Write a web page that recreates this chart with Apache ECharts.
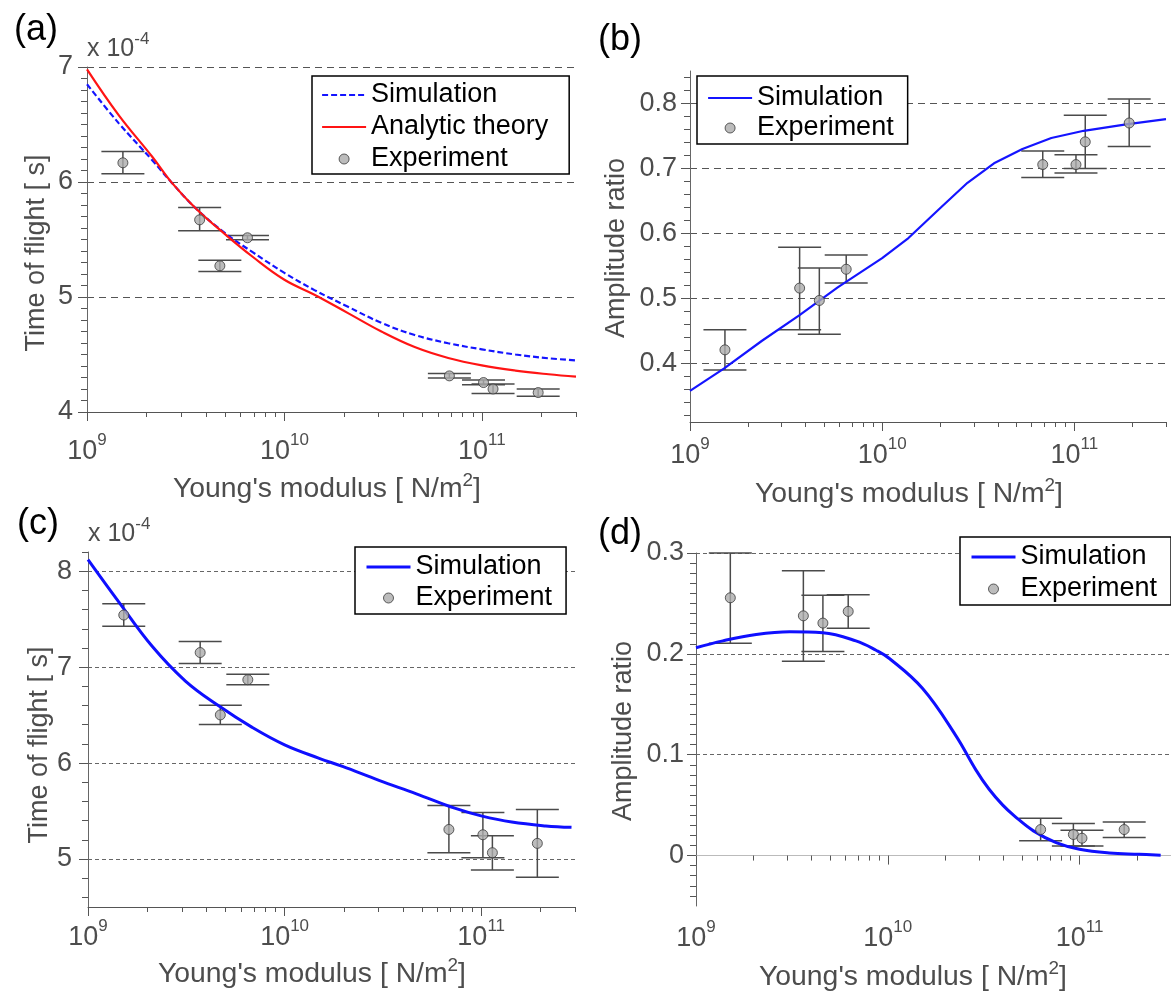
<!DOCTYPE html>
<html><head><meta charset="utf-8">
<script src="https://cdn.jsdelivr.net/npm/echarts@6/dist/echarts.min.js"></script>
<style>html,body{margin:0;padding:0;background:#fff}#c{width:1171px;height:993px}</style>
</head><body><div id="c"></div>
<script>
// ---------------- DATA ----------------
// Experiment x positions (Young's modulus, N/m^2)
const expE   = [1.52e9, 3.72e9, 4.71e9, 6.5e9, 6.85e10, 1.02e11, 1.14e11, 1.93e11];
const expE_d = [1.51e9, 3.63e9, 4.59e9, 6.22e9, 6.27e10, 9.29e10, 1.03e11, 1.71e11];

// (a) time of flight (x 1e-4 s)
const curveE_a   = [1e9, 1.45e9, 2.14e9, 2.7e9, 3.56e9, 5.05e9, 6.9e9, 1e10, 1.42e10, 2.1e10, 3.1e10, 4.57e10, 6.76e10, 1e11, 1.48e11, 2.18e11, 3e11];
const sim_a      = [6.85, 6.51, 6.19, 5.99, 5.77, 5.55, 5.39, 5.21, 5.06, 4.915, 4.775, 4.67, 4.598, 4.545, 4.50, 4.467, 4.449];
const theory_a   = [6.98, 6.58, 6.22, 5.99, 5.77, 5.54, 5.35, 5.15, 5.02, 4.86, 4.70, 4.565, 4.47, 4.405, 4.36, 4.328, 4.307];
const exp_a      = [6.167, 5.671, 5.271, 5.515, 4.314, 4.256, 4.200, 4.169];
const expLo_a    = [6.072, 5.576, 5.222, 5.497, 4.296, 4.238, 4.160, 4.137];
const expHi_a    = [6.266, 5.779, 5.320, 5.535, 4.334, 4.279, 4.244, 4.201];

// (b) amplitude ratio
const curveE_b   = [1e9, 1.5e9, 2.37e9, 3.7e9, 5.87e9, 1e10, 1.37e10, 2.02e10, 2.78e10, 3.82e10, 5.37e10, 7.59e10, 1.12e11, 1.86e11, 3e11];
const sim_b      = [0.358, 0.392, 0.435, 0.474, 0.517, 0.562, 0.593, 0.640, 0.678, 0.708, 0.730, 0.747, 0.758, 0.768, 0.776];
const exp_b      = [0.421, 0.516, 0.497, 0.545, 0.706, 0.706, 0.741, 0.770];
const expLo_b    = [0.390, 0.452, 0.445, 0.524, 0.686, 0.693, 0.700, 0.734];
const expHi_b    = [0.452, 0.579, 0.547, 0.567, 0.727, 0.721, 0.782, 0.807];

// (c) time of flight (x 1e-4 s)
const curveE_c   = [1e9, 1.43e9, 2.12e9, 3.13e9, 4.62e9, 6.84e9, 1e10, 1.5e10, 1.97e10, 3.02e10, 4.68e10, 7.33e10, 1e11, 1.43e11, 2.13e11, 2.88e11];
const sim_c      = [8.121, 7.683, 7.217, 6.855, 6.597, 6.372, 6.19, 6.05, 5.965, 5.82, 5.68, 5.53, 5.45, 5.385, 5.345, 5.33];
const exp_c      = [7.543, 7.152, 6.502, 6.869, 5.308, 5.253, 5.066, 5.163];
const expLo_c    = [7.426, 7.038, 6.401, 6.817, 5.066, 5.014, 4.886, 4.810];
const expHi_c    = [7.661, 7.266, 6.602, 6.927, 5.557, 5.484, 5.242, 5.516];

// (d) amplitude ratio
const curveE_d   = [1e9, 1.38e9, 2.06e9, 3.08e9, 4.58e9, 6.82e9, 8.69e9, 1.02e10, 1.52e10, 2.26e10, 2.88e10, 3.37e10, 3.98e10, 4.57e10, 5.75e10, 7.55e10, 1e11, 1.43e11, 2.05e11, 2.65e11];
const sim_d      = [0.206, 0.2129, 0.2192, 0.2219, 0.2209, 0.2129, 0.2036, 0.1954, 0.1656, 0.1192, 0.085, 0.066, 0.050, 0.0394, 0.0245, 0.0129, 0.0063, 0.0026, 0.0013, 0.0003];
const exp_d      = [0.2556, 0.2377, 0.2305, 0.2421, 0.0258, 0.0209, 0.0172, 0.0258];
const expLo_d    = [0.2106, 0.1927, 0.2023, 0.2255, 0.0146, 0.0096, 0.0096, 0.0179];
const expHi_d    = [0.300, 0.2825, 0.258, 0.2586, 0.0371, 0.0318, 0.0252, 0.0334];

// tick values
const xMajorTicks = [1e9, 1e10, 1e11];
const xMinorTicks = [2e9,3e9,4e9,5e9,6e9,7e9,8e9,9e9,2e10,3e10,4e10,5e10,6e10,7e10,8e10,9e10,2e11,3e11];
const yMajor_a = [4, 5, 6, 7];
const yMinor_a = [4.1,4.2,4.3,4.4,4.5,4.6,4.7,4.8,4.9,5.1,5.2,5.3,5.4,5.5,5.6,5.7,5.8,5.9,6.1,6.2,6.3,6.4,6.5,6.6,6.7,6.8,6.9];
const yMajor_b = [0.4, 0.5, 0.6, 0.7, 0.8];
const yMinor_b = [0.32,0.34,0.36,0.38,0.42,0.44,0.46,0.48,0.52,0.54,0.56,0.58,0.62,0.64,0.66,0.68,0.72,0.74,0.76,0.78,0.82,0.84];
const yMajor_c = [5, 6, 7, 8];
const yMinor_c = [4.6,4.8,5.2,5.4,5.6,5.8,6.2,6.4,6.6,6.8,7.2,7.4,7.6,7.8,8.2];
const yMajor_d = [0, 0.1, 0.2, 0.3];
const yMinor_d = [-0.04,-0.03,-0.02,-0.01,0.01,0.02,0.03,0.04,0.05,0.06,0.07,0.08,0.09,0.11,0.12,0.13,0.14,0.15,0.16,0.17,0.18,0.19,0.21,0.22,0.23,0.24,0.25,0.26,0.27,0.28,0.29];

// ---------------- STYLE / BUILD ----------------
const FONT = 'Liberation Sans';
const GREY = '#4d4d4d';
const zip = (xs, ys) => xs.map((x, i) => [x, ys[i]]);
const zip3 = (xs, a, b) => xs.map((x, i) => [x, a[i], b[i]]);

function xAxesFor(g, labelMargin, lineColor) {
  const base = {type: 'log', logBase: 10, gridIndex: g, min: 1e9, max: 3e11, position: 'bottom'};
  return [
    Object.assign({}, base, {
      axisLine: {show: true, lineStyle: {color: lineColor || '#555', width: 1}},
      axisTick: {show: true, customValues: xMajorTicks, length: 9, lineStyle: {color: '#555'}},
      axisLabel: {
        show: true, customValues: xMajorTicks, margin: labelMargin,
        formatter: v => '{b|10}{s|' + Math.round(Math.log10(v)) + '}',
        rich: {
          b: {fontFamily: FONT, fontSize: 27, color: GREY, lineHeight: 30, padding: [10, 0, 0, 0]},
          s: {fontFamily: FONT, fontSize: 17, color: GREY, lineHeight: 17, verticalAlign: 'top'}
        }
      },
      splitLine: {show: false}, minorTick: {show: false}
    }),
    Object.assign({}, base, {
      axisLine: {show: false},
      axisTick: {show: true, customValues: xMinorTicks, length: 5, lineStyle: {color: '#555'}},
      axisLabel: {show: false}, splitLine: {show: false}
    })
  ];
}
function yAxesFor(g, min, max, majors, minors, margin, grid) {
  const base = {type: 'value', gridIndex: g, min: min, max: max, position: 'left'};
  return [
    Object.assign({}, base, {
      axisLine: {show: true, lineStyle: {color: '#666', width: 1}},
      axisTick: {show: true, customValues: majors, length: 9, lineStyle: {color: '#555'}},
      axisLabel: {show: true, customValues: majors, margin: margin, fontFamily: FONT, fontSize: 27, color: GREY},
      splitLine: {show: true, lineStyle: grid}
    }),
    Object.assign({}, base, {
      axisLine: {show: false},
      axisTick: {show: true, customValues: minors, length: 6, lineStyle: {color: '#555'}},
      axisLabel: {show: false}, splitLine: {show: false}
    })
  ];
}

const gridDark = {type: [7, 5], color: '#555', width: 1};
const gridLight = {type: [4, 3], color: '#666', width: 1};

function errRender(params, api) {
  const x = api.value(0), lo = api.value(1), hi = api.value(2);
  const p1 = api.coord([x, lo]), p2 = api.coord([x, hi]);
  const hw = 21.5;
  const st = {stroke: '#4a4a4a', lineWidth: 1.5};
  return {type: 'group', children: [
    {type: 'line', shape: {x1: p1[0], y1: p1[1], x2: p2[0], y2: p2[1]}, style: st},
    {type: 'line', shape: {x1: p1[0] - hw, y1: p1[1], x2: p1[0] + hw, y2: p1[1]}, style: st},
    {type: 'line', shape: {x1: p2[0] - hw, y1: p2[1], x2: p2[0] + hw, y2: p2[1]}, style: st}
  ]};
}
const expStyle = {color: '#ababab', borderColor: '#3a3a3a', borderWidth: 1};
function errSeries(name, idx, data) {
  return {name: name, type: 'custom', xAxisIndex: idx, yAxisIndex: idx, renderItem: errRender,
          encode: {x: 0, y: [1, 2]}, data: data, z: 3, silent: true, clip: false};
}
function expSeries(idx, data) {
  return {name: 'Experiment', type: 'scatter', xAxisIndex: idx, yAxisIndex: idx, data: data,
          symbol: 'circle', symbolSize: 10, itemStyle: expStyle, z: 5, silent: true};
}
function lineSeries(name, idx, data, ls, smooth) {
  return {name: name, type: 'line', xAxisIndex: idx, yAxisIndex: idx, data: data, symbol: 'none',
          smooth: smooth, lineStyle: ls, z: 4, silent: true};
}

const lsSimA = {color: '#1414ff', width: 2.2, type: [6, 3]};
const lsTheory = {color: '#ff1414', width: 2.2, type: 'solid'};
const lsSimB = {color: '#1414ff', width: 2.2, type: 'solid'};
const lsSimCD = {color: '#0f0fff', width: 3, type: 'solid'};
const hiddenDot = {color: 'rgba(0,0,0,0)', borderColor: 'rgba(0,0,0,0)', borderWidth: 0, opacity: 0};

function legendFor(left, top, padding, gap, items) {
  return {
    orient: 'vertical', left: left, top: top, padding: padding, itemGap: gap,
    itemWidth: 44, itemHeight: 10, selectedMode: false,
    borderColor: '#000', borderWidth: 1.5, backgroundColor: '#fff', borderRadius: 0,
    textStyle: {fontFamily: FONT, fontSize: 27, color: '#000', lineHeight: 30},
    data: items
  };
}
const legExp = {name: 'Experiment', icon: 'circle', itemStyle: expStyle};
const legLine = (name, ls) => ({name: name, lineStyle: ls, itemStyle: hiddenDot});

function txt(x, y, text, size, color, extra) {
  return Object.assign({type: 'text', x: x, y: y, silent: true,
    style: {text: text, fontFamily: FONT, fontSize: size, fill: color,
            align: 'center', verticalAlign: 'middle', textAlign: 'center', textVerticalAlign: 'middle'}}, extra || {});
}
const xNameText = '{n|Young\'s modulus [ N/m}{s|2}{n|]}';
const xNameRich = {
  n: {fontFamily: FONT, fontSize: 27, fill: GREY, color: GREY, lineHeight: 30, padding: [6, 0, 0, 0]},
  s: {fontFamily: FONT, fontSize: 18, fill: GREY, color: GREY, lineHeight: 18, verticalAlign: 'top'}
};
function xName(x, y) {
  const t = txt(x, y, xNameText, 27, GREY, {scaleX: 1.05});
  t.style.rich = xNameRich;
  return t;
}
function yName(x, y, text) {
  return txt(x, y, text, 27, GREY, {rotation: Math.PI / 2});
}
function scaleText(x, y) {
  return {type: 'text', x: x, y: y, silent: true,
    style: {text: '{n|x 10}{s|-4}', fill: GREY, align: 'left', verticalAlign: 'top', textAlign: 'left', textVerticalAlign: 'top',
      rich: {
        n: {fontFamily: FONT, fontSize: 25, fill: GREY, color: GREY, lineHeight: 28, padding: [8, 0, 0, 0]},
        s: {fontFamily: FONT, fontSize: 17, fill: GREY, color: GREY, lineHeight: 17, verticalAlign: 'top'}
      }}};
}

const option = {
  animation: false,
  backgroundColor: '#fff',
  grid: [
    {left: 87, top: 67, width: 489, height: 345, outerBoundsMode: 'none', containLabel: false},
    {left: 690, top: 71, width: 476, height: 351, outerBoundsMode: 'none', containLabel: false},
    {left: 88, top: 552, width: 487, height: 355, outerBoundsMode: 'none', containLabel: false},
    {left: 696, top: 553, width: 475, height: 353, outerBoundsMode: 'none', containLabel: false}
  ],
  xAxis: [].concat(
    xAxesFor(0, 20), xAxesFor(1, 14), xAxesFor(2, 11), xAxesFor(3, 13, '#bbb')
  ),
  yAxis: [].concat(
    yAxesFor(0, 4, 7, yMajor_a, yMinor_a, 14, gridDark),
    yAxesFor(1, 0.31, 0.85, yMajor_b, yMinor_b, 13, gridDark),
    yAxesFor(2, 4.5, 8.2, yMajor_c, yMinor_c, 16, gridLight),
    yAxesFor(3, -0.05, 0.3, yMajor_d, yMinor_d, 12, gridLight)
  ),
  legend: [
    legendFor(312, 76, [4, 21, 0, 9], 2, [
      legLine('Simulation', lsSimA), legLine('Analytic theory', lsTheory), legExp]),
    legendFor(697, 76, [7, 14, 1, 10], 0, [legLine('Simulation', lsSimB), legExp]),
    legendFor(355, 547, [5, 14, 1, 10], 1, [legLine('Simulation', lsSimCD), legExp]),
    legendFor(960, 537, [5, 14, 1, 10], 2, [legLine('Simulation', lsSimCD), legExp])
  ],
  series: [
    // (a)
    lineSeries('Simulation', 0, zip(curveE_a, sim_a), lsSimA, 0.4),
    lineSeries('Analytic theory', 0, zip(curveE_a, theory_a), lsTheory, 0.4),
    errSeries('err-a', 0, zip3(expE, expLo_a, expHi_a)),
    expSeries(0, zip(expE, exp_a)),
    // (b)
    lineSeries('Simulation', 2, zip(curveE_b, sim_b), lsSimB, false),
    errSeries('err-b', 2, zip3(expE, expLo_b, expHi_b)),
    expSeries(2, zip(expE, exp_b)),
    // (c)
    lineSeries('Simulation', 4, zip(curveE_c, sim_c), lsSimCD, 0.4),
    errSeries('err-c', 4, zip3(expE, expLo_c, expHi_c)),
    expSeries(4, zip(expE, exp_c)),
    // (d)
    lineSeries('Simulation', 6, zip(curveE_d, sim_d), lsSimCD, 0.4),
    errSeries('err-d', 6, zip3(expE_d, expLo_d, expHi_d)),
    expSeries(6, zip(expE_d, exp_d))
  ],
  graphic: [
    txt(36, 30, '(a)', 36, '#000'),
    txt(620, 40, '(b)', 36, '#000'),
    txt(38, 524, '(c)', 36, '#000'),
    txt(620, 534, '(d)', 36, '#000'),
    scaleText(87, 31),
    scaleText(88, 516),
    xName(327, 487), xName(909, 492), xName(312, 972), xName(913, 975),
    yName(37, 253, 'Time of flight [ s]'),
    yName(617, 248, 'Amplitude ratio'),
    yName(40, 745, 'Time of flight [ s]'),
    yName(624, 731, 'Amplitude ratio')
  ]
};

const chart = echarts.init(document.getElementById('c'), null, {renderer: 'canvas'});
chart.setOption(option);
</script>
</body></html>
